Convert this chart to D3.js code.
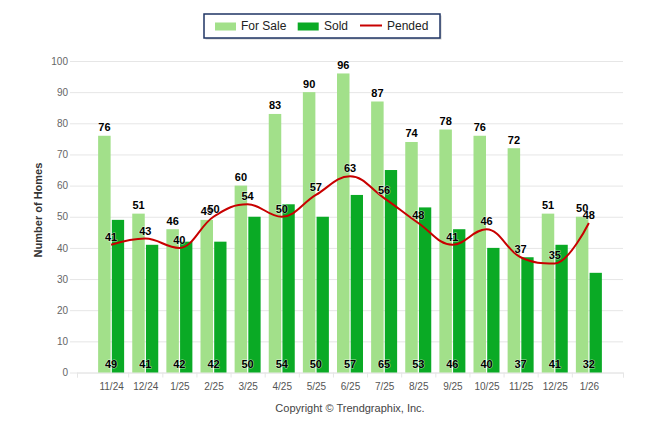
<!DOCTYPE html>
<html>
<head>
<meta charset="utf-8">
<title>Homes</title>
<style>
  body { margin: 0; background: #fff; }
  text { font-family: "Liberation Sans", Arial, sans-serif; }
</style>
</head>
<body>
<script src="https://cdnjs.cloudflare.com/ajax/libs/d3/7.8.5/d3.min.js"></script>
<script>
// data
var categories = ["11/24","12/24","1/25","2/25","3/25","4/25","5/25","6/25","7/25","8/25","9/25","10/25","11/25","12/25","1/26"];
var forSale = [76, 51, 46, 49, 60, 83, 90, 96, 87, 74, 78, 76, 72, 51, 50];
var sold    = [49, 41, 42, 42, 50, 54, 50, 57, 65, 53, 46, 40, 37, 41, 32];
var pended  = [41, 43, 40, 50, 54, 50, 57, 63, 56, 48, 41, 46, 37, 35, 48];
var yTicks  = [0, 10, 20, 30, 40, 50, 60, 70, 80, 90, 100];
var seriesNames = ["For Sale", "Sold", "Pended"];

// colours
var lightGreen = "#a2e08a";
var darkGreen = "#0aaa25";
var red = "#c80000";

var W = 646, H = 434;
var plotLeft = 70, plotRight = 623, plotTop = 61, plotBottom = 372.5;

var svg = d3.select("body").append("svg")
    .attr("width", W).attr("height", H);

var x = d3.scaleLinear().domain([-1, categories.length]).range([77, plotRight]);
var y = d3.scaleLinear().domain([0, 100]).range([plotBottom, plotTop]);

// y grid + labels
var yAxis = svg.append("g")
    .attr("transform", "translate(" + plotLeft + ",0)")
    .call(d3.axisLeft(y).tickValues(yTicks).tickSize(-(plotRight - plotLeft)).tickPadding(2));
yAxis.select(".domain").remove();
yAxis.selectAll("line").attr("stroke", "#e6e6e6");
yAxis.selectAll("text")
    .attr("fill", "#666").style("font-size", "10px")
    .style("font-family", "Liberation Sans, Arial, sans-serif");

// x axis line + tick marks between categories
var tickPos = [-1].concat(d3.range(0.5, categories.length - 1, 1), [categories.length]);
var xTicks = svg.append("g")
    .attr("transform", "translate(0," + plotBottom + ")")
    .call(d3.axisBottom(x).tickValues(tickPos).tickSize(5).tickFormat(""));
xTicks.select(".domain").attr("stroke", "#e6e6e6");
xTicks.selectAll("line").attr("stroke", "#e6e6e6");

var xAxis = svg.append("g")
    .attr("transform", "translate(0," + plotBottom + ")")
    .call(d3.axisBottom(x).tickValues(d3.range(categories.length))
        .tickFormat(function(i) { return categories[i]; }).tickSize(0).tickPadding(10));
xAxis.select(".domain").remove();
xAxis.selectAll("text")
    .attr("fill", "#555").style("font-size", "10px")
    .style("font-family", "Liberation Sans, Arial, sans-serif");

// bars
svg.append("g").selectAll("rect")
    .data(forSale).enter().append("rect")
    .attr("x", function(d, i) { return x(i) - 13; })
    .attr("y", function(d) { return y(d); })
    .attr("width", 12.5)
    .attr("height", function(d) { return plotBottom - y(d); })
    .attr("fill", lightGreen);

svg.append("g").selectAll("rect")
    .data(sold).enter().append("rect")
    .attr("x", function(d, i) { return x(i) + 0.7; })
    .attr("y", function(d) { return y(d); })
    .attr("width", 12.3)
    .attr("height", function(d) { return plotBottom - y(d); })
    .attr("fill", darkGreen);

// spline like highcharts does it
function splinePath(pts) {
    var sm = 1.5, den = sm + 1;
    var ctl = pts.map(function() { return null; });
    for (var i = 1; i < pts.length - 1; i++) {
        var p = pts[i], a = pts[i - 1], b = pts[i + 1];
        var lx = (sm * p[0] + a[0]) / den, ly = (sm * p[1] + a[1]) / den;
        var rx = (sm * p[0] + b[0]) / den, ry = (sm * p[1] + b[1]) / den;
        var corr = ((ry - ly) * (rx - p[0])) / (rx - lx) + p[1] - ry;
        ly += corr; ry += corr;
        if (ly > a[1] && ly > p[1]) { ly = Math.max(a[1], p[1]); ry = 2 * p[1] - ly; }
        else if (ly < a[1] && ly < p[1]) { ly = Math.min(a[1], p[1]); ry = 2 * p[1] - ly; }
        if (ry > b[1] && ry > p[1]) { ry = Math.max(b[1], p[1]); ly = 2 * p[1] - ry; }
        else if (ry < b[1] && ry < p[1]) { ry = Math.min(b[1], p[1]); ly = 2 * p[1] - ry; }
        ctl[i] = { lx: lx, ly: ly, rx: rx, ry: ry };
    }
    var path = d3.path();
    path.moveTo(pts[0][0], pts[0][1]);
    for (var j = 1; j < pts.length; j++) {
        var prev = ctl[j - 1], cur = ctl[j];
        var c1x = prev ? prev.rx : pts[j - 1][0], c1y = prev ? prev.ry : pts[j - 1][1];
        var c2x = cur ? cur.lx : pts[j][0], c2y = cur ? cur.ly : pts[j][1];
        path.bezierCurveTo(c1x, c1y, c2x, c2y, pts[j][0], pts[j][1]);
    }
    return path.toString();
}

var pendedPts = pended.map(function(d, i) { return [x(i), y(d)]; });
svg.append("path")
    .attr("d", splinePath(pendedPts))
    .attr("fill", "none")
    .attr("stroke", red)
    .attr("stroke-width", 2);

// data labels
function labels(data, fx, fy) {
    svg.append("g").selectAll("text")
        .data(data).enter().append("text")
        .attr("x", fx)
        .attr("y", fy)
        .attr("text-anchor", "middle")
        .style("font-size", "11px")
        .style("font-weight", "bold")
        .attr("fill", "#000")
        .attr("stroke", "#fff")
        .attr("stroke-opacity", 0.6)
        .attr("stroke-width", 1)
        .attr("stroke-linejoin", "round")
        .attr("paint-order", "stroke")
        .text(function(d) { return d; });
}
labels(forSale, function(d, i) { return x(i) - 6.7; }, function(d) { return y(d) - 4.5; });
labels(sold, function(d, i) { return x(i); }, function() { return plotBottom - 5; });
labels(pended, function(d, i) { return x(i); }, function(d) { return y(d) - 4; });

// y axis title
svg.append("text")
    .attr("transform", "translate(41.5,210) rotate(-90)")
    .attr("text-anchor", "middle")
    .style("font-size", "11px")
    .style("font-weight", "bold")
    .attr("fill", "#333")
    .text("Number of Homes");

// legend
var lg = svg.append("g");
lg.append("rect").attr("x", 205.5).attr("y", 15.5).attr("width", 236).attr("height", 24)
    .attr("fill", "#999").attr("opacity", 0.5);
lg.append("rect").attr("x", 204).attr("y", 14).attr("width", 236).attr("height", 24)
    .attr("fill", "#fff").attr("stroke", "#1f3564").attr("stroke-width", 1.5);
var itemX = [215, 297.7, 360];
var textX = [241, 324, 387];
lg.append("rect").attr("x", itemX[0]).attr("y", 22.5).attr("width", 21).attr("height", 8).attr("fill", lightGreen);
lg.append("rect").attr("x", itemX[1]).attr("y", 22.5).attr("width", 21).attr("height", 8).attr("fill", darkGreen);
lg.append("line").attr("x1", itemX[2]).attr("x2", itemX[2] + 22).attr("y1", 25.5).attr("y2", 25.5)
    .attr("stroke", red).attr("stroke-width", 2);
lg.selectAll("text.item").data(seriesNames).enter().append("text")
    .attr("class", "item")
    .attr("x", function(d, i) { return textX[i]; })
    .attr("y", 30)
    .style("font-size", "12px")
    .attr("fill", "#222")
    .text(function(d) { return d; });

// credit
svg.append("text")
    .attr("x", 350).attr("y", 412)
    .attr("text-anchor", "middle")
    .style("font-size", "11px")
    .attr("fill", "#444")
    .text("Copyright \u00A9 Trendgraphix, Inc.");
</script>
</body>
</html>
